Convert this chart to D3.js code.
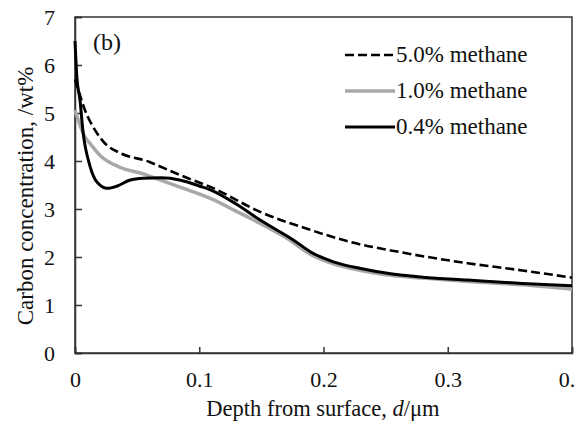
<!DOCTYPE html>
<html><head><meta charset="utf-8">
<script src="https://cdn.jsdelivr.net/npm/d3@7"></script>
<style>
html,body{margin:0;padding:0;background:#fff;overflow:hidden}
text{font-family:"Liberation Serif","Times New Roman",serif;fill:#111}
</style></head>
<body>
<svg id="chart" width="574" height="423"></svg>
<script>
// ---- data ----
const xTicks = [0, 0.1, 0.2, 0.3, 0.4];
const xTickLabels = ["0", "0.1", "0.2", "0.3", "0.4"];
const yTicks = [0, 1, 2, 3, 4, 5, 6, 7];
const seriesNames = ["5.0% methane", "1.0% methane", "0.4% methane"];

const depth50 = [0, 0.004, 0.008, 0.016, 0.024, 0.036, 0.06, 0.069, 0.09, 0.109, 0.149, 0.19, 0.222, 0.262, 0.316, 0.36, 0.4];
const carbon50 = [5.7, 5.37, 5.06, 4.65, 4.37, 4.17, 3.98, 3.88, 3.65, 3.46, 2.94, 2.56, 2.31, 2.1, 1.87, 1.72, 1.57];

const depth10 = [0, 0.004, 0.008, 0.012, 0.02, 0.036, 0.055, 0.069, 0.085, 0.109, 0.13, 0.149, 0.17, 0.19, 0.208, 0.23, 0.254, 0.28, 0.316, 0.36, 0.4];
const carbon10 = [5.06, 4.75, 4.5, 4.37, 4.12, 3.87, 3.73, 3.6, 3.45, 3.22, 2.95, 2.7, 2.4, 2.05, 1.86, 1.72, 1.62, 1.56, 1.49, 1.42, 1.33];

const depth04 = [0, 0.0015, 0.004, 0.0065, 0.012, 0.018, 0.026, 0.034, 0.044, 0.055, 0.069, 0.085, 0.1, 0.109, 0.13, 0.149, 0.176, 0.19, 0.208, 0.23, 0.254, 0.28, 0.316, 0.36, 0.4];
const carbon04 = [6.5, 5.75, 5.27, 4.6, 3.9, 3.55, 3.43, 3.48, 3.6, 3.64, 3.65, 3.6, 3.48, 3.4, 3.1, 2.77, 2.35, 2.1, 1.9, 1.76, 1.65, 1.58, 1.52, 1.45, 1.40];

// ---- layout ----
const svg = d3.select("#chart");
const L = 75, R = 572, T = 17, B = 353;
const x = d3.scaleLinear().domain([0, 0.4]).range([L, R]);
const y = d3.scaleLinear().domain([0, 7]).range([B, T]);
const axisColor = "#333";

// frame
svg.append("rect").attr("x", L).attr("y", T).attr("width", R - L).attr("height", B - T)
  .attr("fill", "none").attr("stroke", axisColor).attr("stroke-width", 1.5);

// axes (ticks inward)
const xAxis = svg.append("g").attr("transform", `translate(0,${B})`)
  .call(d3.axisBottom(x).tickValues(xTicks).tickSize(-6).tickPadding(24)
    .tickFormat((d, i) => xTickLabels[i]));
const yAxis = svg.append("g").attr("transform", `translate(${L},0)`)
  .call(d3.axisLeft(y).tickValues(yTicks).tickSize(-7).tickPadding(20).tickFormat(d3.format("d")));
[xAxis, yAxis].forEach(g => {
  g.select(".domain").attr("stroke", axisColor).attr("stroke-width", 1.5);
  g.selectAll(".tick line").attr("stroke", axisColor).attr("stroke-width", 1.5);
  g.selectAll(".tick text").attr("font-size", 22).attr("font-family", "Liberation Serif").attr("fill", "#111");
});
xAxis.selectAll(".tick text").attr("y", 34).attr("dy", "0");

// lines
const series = [
  {name: seriesNames[0], xs: depth50, ys: carbon50, color: "#000", width: 2.6, dash: "9,4"},
  {name: seriesNames[1], xs: depth10, ys: carbon10, color: "#a8a8a8", width: 3.5, dash: null},
  {name: seriesNames[2], xs: depth04, ys: carbon04, color: "#000", width: 3, dash: null}
];
const line = d3.line().x(d => x(d[0])).y(d => y(d[1])).curve(d3.curveMonotoneX);
const drawOrder = [1, 0, 2];
drawOrder.forEach(i => {
  const s = series[i];
  svg.append("path").datum(s.xs.map((v, j) => [v, s.ys[j]]))
    .attr("d", line).attr("fill", "none").attr("stroke", s.color)
    .attr("stroke-width", s.width).attr("stroke-dasharray", s.dash)
    .attr("stroke-linejoin", "round");
});

// legend
const legY = [55, 91, 127];
series.forEach((s, i) => {
  svg.append("line").attr("x1", 345).attr("x2", 395).attr("y1", legY[i]).attr("y2", legY[i])
    .attr("stroke", s.color).attr("stroke-width", s.width).attr("stroke-dasharray", s.dash);
  svg.append("text").attr("x", 396).attr("y", legY[i] + 7).attr("font-size", 23).text(s.name);
});

// panel label
svg.append("text").attr("x", 93).attr("y", 50).attr("font-size", 24).text("(b)");

// axis titles
const xt = svg.append("text").attr("x", 323).attr("y", 416).attr("text-anchor", "middle").attr("font-size", 22.5);
xt.append("tspan").text("Depth from surface, ");
xt.append("tspan").attr("font-style", "italic").text("d");
xt.append("tspan").text("/μm");
svg.append("text").attr("transform", "translate(33,196) rotate(-90)").attr("text-anchor", "middle")
  .attr("font-size", 23).text("Carbon concentration, /wt%");
</script>
</body></html>
